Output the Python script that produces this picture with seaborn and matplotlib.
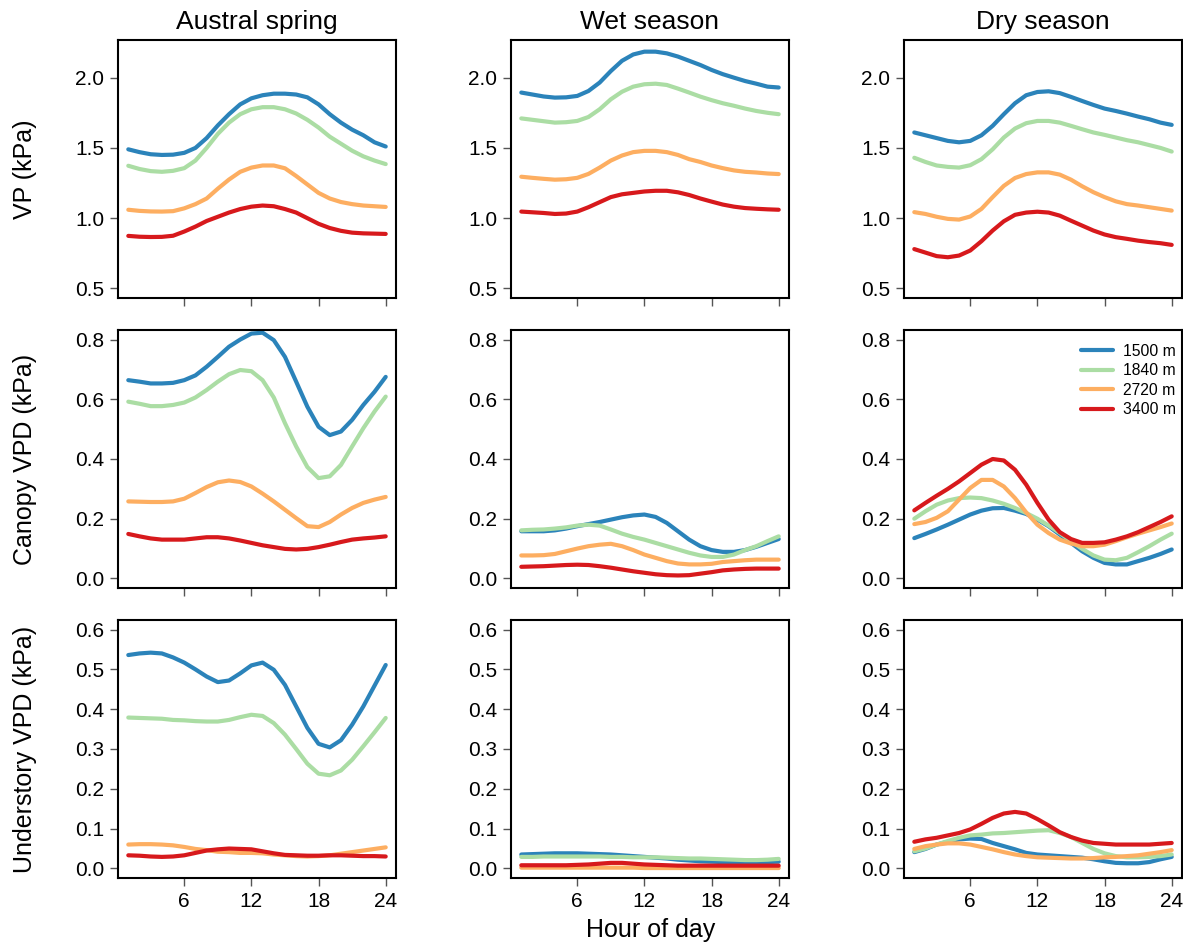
import numpy as np
import pandas as pd
import matplotlib
matplotlib.use('Agg')
import matplotlib.pyplot as plt
from matplotlib.ticker import FormatStrFormatter
from matplotlib.lines import Line2D
import seaborn as sns

sns.set_theme(style='ticks')
plt.rcParams['font.family'] = ['Liberation Sans', 'DejaVu Sans']
plt.rcParams['text.color'] = 'black'

# ---------------- data ---------------- #
hours = list(range(1, 25))
elevations = ['1500 m', '1840 m', '2720 m', '3400 m']
seasons = ['Austral spring', 'Wet season', 'Dry season']
row_labels = ['VP (kPa)', 'Canopy VPD (kPa)', 'Understory VPD (kPa)']

# VP
vp_spring_1500 = [1.49, 1.47, 1.455, 1.45, 1.452, 1.465, 1.50, 1.57, 1.66, 1.74, 1.81, 1.853, 1.875, 1.886, 1.886, 1.88, 1.86, 1.81, 1.74, 1.68, 1.63, 1.59, 1.54, 1.51]
vp_spring_1840 = [1.373, 1.35, 1.335, 1.33, 1.337, 1.356, 1.41, 1.50, 1.60, 1.68, 1.74, 1.775, 1.79, 1.79, 1.775, 1.745, 1.70, 1.645, 1.58, 1.53, 1.48, 1.44, 1.41, 1.385]
vp_spring_2720 = [1.06, 1.052, 1.048, 1.047, 1.05, 1.07, 1.10, 1.14, 1.21, 1.275, 1.33, 1.36, 1.375, 1.375, 1.355, 1.30, 1.24, 1.18, 1.14, 1.115, 1.10, 1.09, 1.085, 1.08]
vp_spring_3400 = [0.874, 0.868, 0.866, 0.867, 0.875, 0.905, 0.94, 0.98, 1.01, 1.04, 1.065, 1.082, 1.09, 1.085, 1.065, 1.04, 1.00, 0.96, 0.93, 0.91, 0.897, 0.892, 0.89, 0.888]

vp_wet_1500 = [1.894, 1.88, 1.866, 1.858, 1.86, 1.87, 1.905, 1.965, 2.047, 2.12, 2.165, 2.185, 2.185, 2.173, 2.15, 2.12, 2.09, 2.055, 2.025, 2.0, 1.976, 1.957, 1.936, 1.93]
vp_wet_1840 = [1.71, 1.70, 1.69, 1.68, 1.683, 1.692, 1.72, 1.775, 1.846, 1.90, 1.936, 1.953, 1.957, 1.948, 1.922, 1.894, 1.865, 1.84, 1.818, 1.80, 1.78, 1.763, 1.75, 1.74]
vp_wet_2720 = [1.295, 1.287, 1.28, 1.274, 1.277, 1.287, 1.315, 1.36, 1.41, 1.446, 1.47, 1.479, 1.479, 1.47, 1.45, 1.42, 1.40, 1.375, 1.356, 1.34, 1.33, 1.325, 1.318, 1.314]
vp_wet_3400 = [1.047, 1.042, 1.037, 1.03, 1.033, 1.047, 1.078, 1.114, 1.15, 1.17, 1.18, 1.19, 1.195, 1.195, 1.184, 1.165, 1.14, 1.118, 1.097, 1.082, 1.072, 1.067, 1.063, 1.06]

vp_dry_1500 = [1.61, 1.59, 1.57, 1.55, 1.54, 1.55, 1.59, 1.657, 1.74, 1.818, 1.875, 1.898, 1.903, 1.89, 1.863, 1.834, 1.806, 1.78, 1.763, 1.744, 1.723, 1.704, 1.68, 1.664]
vp_dry_1840 = [1.43, 1.40, 1.375, 1.365, 1.36, 1.377, 1.42, 1.49, 1.574, 1.638, 1.676, 1.692, 1.692, 1.68, 1.657, 1.633, 1.61, 1.593, 1.574, 1.555, 1.54, 1.52, 1.50, 1.474]
vp_dry_2720 = [1.043, 1.03, 1.01, 0.995, 0.99, 1.012, 1.066, 1.15, 1.23, 1.286, 1.314, 1.326, 1.326, 1.31, 1.274, 1.227, 1.185, 1.15, 1.12, 1.10, 1.09, 1.078, 1.066, 1.054]
vp_dry_3400 = [0.78, 0.755, 0.73, 0.722, 0.734, 0.77, 0.836, 0.912, 0.978, 1.024, 1.04, 1.046, 1.04, 1.018, 0.982, 0.947, 0.912, 0.884, 0.865, 0.853, 0.84, 0.83, 0.822, 0.81]

# Canopy VPD
can_spring_1500 = [0.664, 0.659, 0.653, 0.653, 0.655, 0.664, 0.68, 0.709, 0.742, 0.776, 0.80, 0.82, 0.823, 0.798, 0.742, 0.659, 0.575, 0.508, 0.48, 0.492, 0.531, 0.581, 0.625, 0.675]
can_spring_1840 = [0.592, 0.585, 0.577, 0.577, 0.581, 0.589, 0.606, 0.631, 0.659, 0.684, 0.698, 0.694, 0.664, 0.606, 0.52, 0.442, 0.373, 0.336, 0.342, 0.38, 0.442, 0.503, 0.559, 0.609]
can_spring_2720 = [0.258, 0.257, 0.256, 0.256, 0.258, 0.267, 0.286, 0.306, 0.322, 0.328, 0.323, 0.308, 0.284, 0.258, 0.23, 0.202, 0.175, 0.172, 0.189, 0.214, 0.236, 0.253, 0.264, 0.273]
can_spring_3400 = [0.149, 0.141, 0.134, 0.13, 0.13, 0.13, 0.134, 0.138, 0.138, 0.134, 0.127, 0.119, 0.111, 0.105, 0.099, 0.097, 0.099, 0.105, 0.113, 0.122, 0.13, 0.134, 0.137, 0.141]

can_wet_1500 = [0.158, 0.158, 0.158, 0.161, 0.167, 0.175, 0.182, 0.189, 0.197, 0.205, 0.211, 0.214, 0.206, 0.186, 0.158, 0.13, 0.108, 0.095, 0.089, 0.089, 0.095, 0.106, 0.119, 0.132]
can_wet_1840 = [0.161, 0.163, 0.164, 0.167, 0.171, 0.177, 0.18, 0.177, 0.164, 0.15, 0.139, 0.13, 0.119, 0.108, 0.097, 0.086, 0.077, 0.072, 0.072, 0.08, 0.095, 0.108, 0.125, 0.141]
can_wet_2720 = [0.077, 0.077, 0.078, 0.082, 0.091, 0.10, 0.108, 0.113, 0.116, 0.108, 0.095, 0.08, 0.069, 0.058, 0.05, 0.047, 0.047, 0.049, 0.055, 0.058, 0.061, 0.063, 0.063, 0.063]
can_wet_3400 = [0.039, 0.04, 0.041, 0.043, 0.045, 0.046, 0.045, 0.041, 0.036, 0.03, 0.024, 0.019, 0.014, 0.011, 0.01, 0.011, 0.016, 0.021, 0.027, 0.03, 0.032, 0.033, 0.033, 0.033]

can_dry_1500 = [0.135, 0.149, 0.164, 0.18, 0.197, 0.214, 0.227, 0.235, 0.236, 0.227, 0.216, 0.197, 0.175, 0.147, 0.119, 0.091, 0.069, 0.052, 0.047, 0.047, 0.058, 0.069, 0.082, 0.097]
can_dry_1840 = [0.20, 0.225, 0.247, 0.261, 0.269, 0.271, 0.269, 0.261, 0.25, 0.236, 0.219, 0.20, 0.177, 0.152, 0.125, 0.099, 0.077, 0.063, 0.061, 0.069, 0.088, 0.108, 0.13, 0.15]
can_dry_2720 = [0.182, 0.189, 0.203, 0.225, 0.264, 0.303, 0.33, 0.33, 0.308, 0.269, 0.221, 0.18, 0.152, 0.13, 0.117, 0.108, 0.108, 0.113, 0.125, 0.138, 0.15, 0.161, 0.172, 0.184]
can_dry_3400 = [0.228, 0.253, 0.277, 0.30, 0.325, 0.353, 0.381, 0.40, 0.395, 0.364, 0.314, 0.253, 0.197, 0.155, 0.132, 0.119, 0.119, 0.121, 0.13, 0.141, 0.155, 0.172, 0.189, 0.208]

# Understory VPD
und_spring_1500 = [0.536, 0.54, 0.542, 0.54, 0.53, 0.517, 0.50, 0.482, 0.468, 0.472, 0.49, 0.51, 0.517, 0.499, 0.461, 0.407, 0.353, 0.313, 0.304, 0.322, 0.361, 0.407, 0.459, 0.511]
und_spring_1840 = [0.379, 0.378, 0.377, 0.376, 0.373, 0.372, 0.37, 0.369, 0.369, 0.373, 0.38, 0.386, 0.383, 0.365, 0.336, 0.30, 0.263, 0.238, 0.234, 0.246, 0.273, 0.307, 0.342, 0.378]
und_spring_2720 = [0.06, 0.061, 0.061, 0.06, 0.058, 0.054, 0.049, 0.046, 0.042, 0.041, 0.039, 0.039, 0.038, 0.035, 0.033, 0.031, 0.03, 0.031, 0.033, 0.037, 0.041, 0.045, 0.049, 0.053]
und_spring_3400 = [0.033, 0.032, 0.03, 0.029, 0.03, 0.033, 0.039, 0.045, 0.048, 0.05, 0.049, 0.048, 0.043, 0.038, 0.034, 0.033, 0.032, 0.032, 0.033, 0.033, 0.032, 0.031, 0.031, 0.03]

und_wet_1500 = [0.035, 0.036, 0.037, 0.038, 0.038, 0.038, 0.037, 0.036, 0.035, 0.033, 0.031, 0.029, 0.027, 0.025, 0.022, 0.02, 0.018, 0.017, 0.016, 0.015, 0.015, 0.016, 0.016, 0.017]
und_wet_1840 = [0.029, 0.029, 0.03, 0.03, 0.03, 0.03, 0.03, 0.03, 0.029, 0.029, 0.028, 0.028, 0.028, 0.027, 0.026, 0.025, 0.025, 0.024, 0.023, 0.022, 0.021, 0.021, 0.022, 0.024]
und_wet_2720 = [0.002, 0.002, 0.002, 0.002, 0.002, 0.002, 0.002, 0.002, 0.002, 0.002, 0.002, 0.001, 0.001, 0.001, 0.001, 0.001, 0.001, 0.001, 0.001, 0.001, 0.001, 0.001, 0.001, 0.001]
und_wet_3400 = [0.008, 0.008, 0.008, 0.008, 0.008, 0.009, 0.01, 0.012, 0.014, 0.014, 0.012, 0.01, 0.009, 0.008, 0.007, 0.007, 0.007, 0.007, 0.007, 0.007, 0.007, 0.007, 0.007, 0.007]

und_dry_1500 = [0.041, 0.049, 0.06, 0.067, 0.073, 0.075, 0.074, 0.064, 0.056, 0.048, 0.039, 0.035, 0.033, 0.031, 0.029, 0.027, 0.023, 0.018, 0.014, 0.013, 0.013, 0.016, 0.023, 0.029]
und_dry_1840 = [0.043, 0.05, 0.06, 0.069, 0.077, 0.083, 0.085, 0.088, 0.089, 0.091, 0.093, 0.095, 0.096, 0.089, 0.079, 0.064, 0.049, 0.038, 0.031, 0.028, 0.028, 0.029, 0.031, 0.035]
und_dry_2720 = [0.049, 0.056, 0.06, 0.063, 0.063, 0.06, 0.054, 0.048, 0.041, 0.035, 0.031, 0.028, 0.027, 0.026, 0.025, 0.025, 0.026, 0.028, 0.029, 0.031, 0.033, 0.037, 0.041, 0.046]
und_dry_3400 = [0.067, 0.073, 0.077, 0.083, 0.089, 0.098, 0.112, 0.127, 0.138, 0.142, 0.138, 0.124, 0.108, 0.091, 0.079, 0.07, 0.064, 0.062, 0.06, 0.06, 0.06, 0.06, 0.062, 0.064]

panels = [
    [[vp_spring_1500, vp_spring_1840, vp_spring_2720, vp_spring_3400],
     [vp_wet_1500, vp_wet_1840, vp_wet_2720, vp_wet_3400],
     [vp_dry_1500, vp_dry_1840, vp_dry_2720, vp_dry_3400]],
    [[can_spring_1500, can_spring_1840, can_spring_2720, can_spring_3400],
     [can_wet_1500, can_wet_1840, can_wet_2720, can_wet_3400],
     [can_dry_1500, can_dry_1840, can_dry_2720, can_dry_3400]],
    [[und_spring_1500, und_spring_1840, und_spring_2720, und_spring_3400],
     [und_wet_1500, und_wet_1840, und_wet_2720, und_wet_3400],
     [und_dry_1500, und_dry_1840, und_dry_2720, und_dry_3400]],
]

# ---------------- plot settings ---------------- #
colors = ['#2b83ba', '#abdda4', '#fdae61', '#d7191c']
palette = dict(zip(elevations, colors))
row_ylims = [(0.5, 2.2), (0.0, 0.8), (0.0, 0.6)]
row_yticks = [[0.5, 1.0, 1.5, 2.0], [0.0, 0.2, 0.4, 0.6, 0.8],
              [0.0, 0.1, 0.2, 0.3, 0.4, 0.5, 0.6]]
x_ticks = [6, 12, 18, 24]

W, H = 1183, 943
col_left = [118, 511, 904]
row_top = [40, 330, 620]
ax_w, ax_h = 278, 258
tick_size = 15
title_size = 19
label_size = 18
legend_size = 11.3
line_width = 3

fig = plt.figure(figsize=(W / 100, H / 100), dpi=100)


def pad_lim(lo, hi):
    # R style 4% axis padding
    p = (hi - lo) * 0.04
    return lo - p, hi + p


for r in range(3):
    for c in range(3):
        ax = fig.add_axes([col_left[c] / W, 1 - (row_top[r] + ax_h) / H, ax_w / W, ax_h / H])
        frames = []
        for e, vals in zip(elevations, panels[r][c]):
            frames.append(pd.DataFrame({'Hour': hours, 'Value': vals, 'Elevation': e}))
        df = pd.concat(frames, ignore_index=True)
        sns.lineplot(data=df, x='Hour', y='Value', hue='Elevation', hue_order=elevations,
                     palette=palette, lw=line_width, legend=False, ax=ax)

        ax.set_xlim(*pad_lim(1, 24))
        ax.set_ylim(*pad_lim(*row_ylims[r]))
        ax.set_xticks(x_ticks)
        ax.set_yticks(row_yticks[r])
        ax.yaxis.set_major_formatter(FormatStrFormatter('%.1f'))
        ax.tick_params(direction='out', length=6, width=1, color='#555555',
                       labelsize=tick_size, labelcolor='black', pad=4)
        if r < 2:
            ax.set_xticklabels([])
        ax.set_xlabel('')
        ax.set_ylabel('')
        for s in ax.spines.values():
            s.set_linewidth(1.5)
            s.set_color('black')

        if r == 0:
            ax.set_title(seasons[c], fontsize=title_size, pad=8, color='black')
        if c == 0:
            ax.set_ylabel(row_labels[r], fontsize=label_size, color='black')
            ax.yaxis.set_label_coords(-0.29, 0.5)

        if r == 1 and c == 2:
            handles = [Line2D([0], [0], color=col, lw=line_width) for col in colors]
            ax.legend(handles, elevations, loc='upper right', frameon=False,
                      fontsize=legend_size, handlelength=2.05, handletextpad=0.64,
                      labelspacing=0.28, borderpad=0, borderaxespad=0,
                      bbox_to_anchor=(0.978, 0.946))

fig.text((511 + 791) / 2 / W, 1 - 930 / H, 'Hour of day', ha='center', va='center',
         fontsize=label_size, color='black')

plt.savefig('out.png', dpi=100)
